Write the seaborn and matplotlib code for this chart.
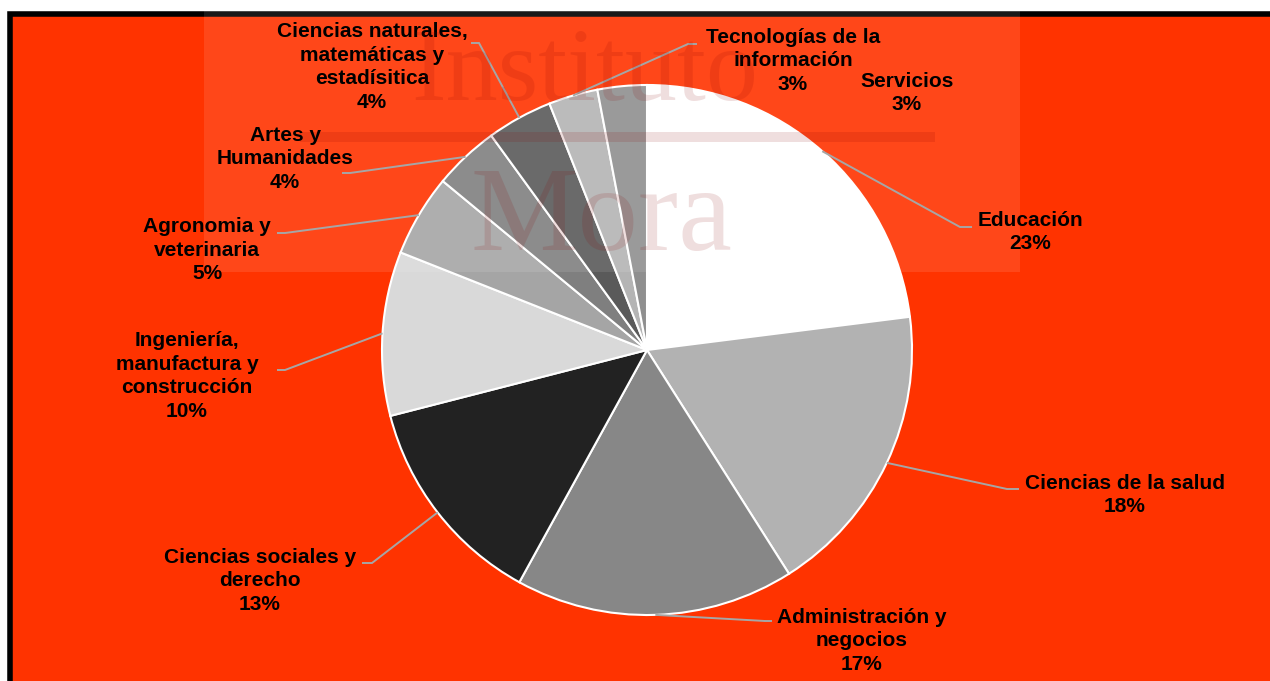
import numpy as np
import matplotlib
matplotlib.use("Agg")
import matplotlib.pyplot as plt
from matplotlib.patches import Rectangle
import seaborn as sns

# Distribution of graduates by field of study (percent)
categories = [
    "Educación",
    "Ciencias de la salud",
    "Administración y\nnegocios",
    "Ciencias sociales y\nderecho",
    "Ingeniería,\nmanufactura y\nconstrucción",
    "Agronomia y\nveterinaria",
    "Artes y\nHumanidades",
    "Ciencias naturales,\nmatemáticas y\nestadísitica",
    "Tecnologías de la\ninformación",
    "Servicios",
]
values = [23, 18, 17, 13, 10, 5, 4, 4, 3, 3]
slice_colors = ["#FFFFFF", "#B2B2B2", "#878787", "#222222", "#D9D9D9",
                "#A5A5A5", "#7F7F7F", "#5A5A5A", "#B4B4B4", "#8F8F8F"]

# Label block centres and leader-line elbows, in figure pixels
label_pos = [(1030, 232), (1125, 495), (862, 641), (260, 581), (187, 376),
             (207, 250), (285, 159), (372, 67), (793, 61), (907, 93)]
leader_elbow = [((960, 227), (972, 227)), ((1007, 489), (1019, 489)),
                ((765, 621), (772, 621)), ((372, 563), (362, 563)),
                ((285, 370), (277, 370)), ((285, 233), (277, 233)),
                ((350, 173), (342, 173)), ((479, 43), (471, 43)),
                ((688, 44), (697, 44)), None]

sns.set_theme(style="white")
plt.rcParams["font.family"] = ["Liberation Sans", "DejaVu Sans"]

W, H = 1270, 681
fig = plt.figure(figsize=(W / 100, H / 100), dpi=100, facecolor="white")

# Background frame
bg = fig.add_axes([0, 0, 1, 1], zorder=0)
bg.set_xlim(0, W)
bg.set_ylim(H, 0)
bg.axis("off")
bg.add_patch(Rectangle((9.75, 13.5), 1300, 700, facecolor="#FF3300",
                       edgecolor="black", linewidth=4))

# Pie
cx, cy, r = 647, 350, 265
pie_ax = fig.add_axes([(cx - r) / W, (H - cy - r) / H, 2 * r / W, 2 * r / H], zorder=1)
palette = sns.color_palette(slice_colors)
wedges, _ = pie_ax.pie(values, colors=palette, startangle=90, counterclock=False,
                       wedgeprops=dict(edgecolor="white", linewidth=1.5))
pie_ax.set_xlim(-1, 1)
pie_ax.set_ylim(-1, 1)
pie_ax.axis("off")
pie_ax.patch.set_visible(False)

# Labels, leaders and watermark on top
top = fig.add_axes([0, 0, 1, 1], zorder=2)
top.set_xlim(0, W)
top.set_ylim(H, 0)
top.axis("off")
top.patch.set_visible(False)

to_pix = pie_ax.transData + top.transData.inverted()
for w, name, v, (lx, ly), lead in zip(wedges, categories, values, label_pos, leader_elbow):
    top.text(lx, ly, f"{name}\n{v}%", ha="center", va="center", multialignment="center",
             fontsize=15, fontweight="bold", color="black", linespacing=1.33)
    if lead is None:
        continue
    mid = np.deg2rad((w.theta1 + w.theta2) / 2)
    ax0, ay0 = to_pix.transform((np.cos(mid), np.sin(mid)))
    (ex, ey), (fx, fy) = lead
    top.plot([ax0, ex, fx], [ay0, ey, fy], color="#A6A6A6", lw=1.4,
             solid_capstyle="butt", solid_joinstyle="miter")

# Watermark
top.add_patch(Rectangle((204, 0), 816, 272, facecolor="white", alpha=0.1, lw=0))
wm = dict(family="Liberation Serif", color="#8B0000", alpha=0.13,
          ha="center", va="baseline")
top.text(585, 100, "Instituto", fontsize=75, **wm)
top.text(601, 250, "Mora", fontsize=87, **wm)
top.add_patch(Rectangle((300, 132), 635, 10, facecolor="#8B0000", alpha=0.13, lw=0))

fig.savefig("out.png", dpi=100, facecolor="white")
